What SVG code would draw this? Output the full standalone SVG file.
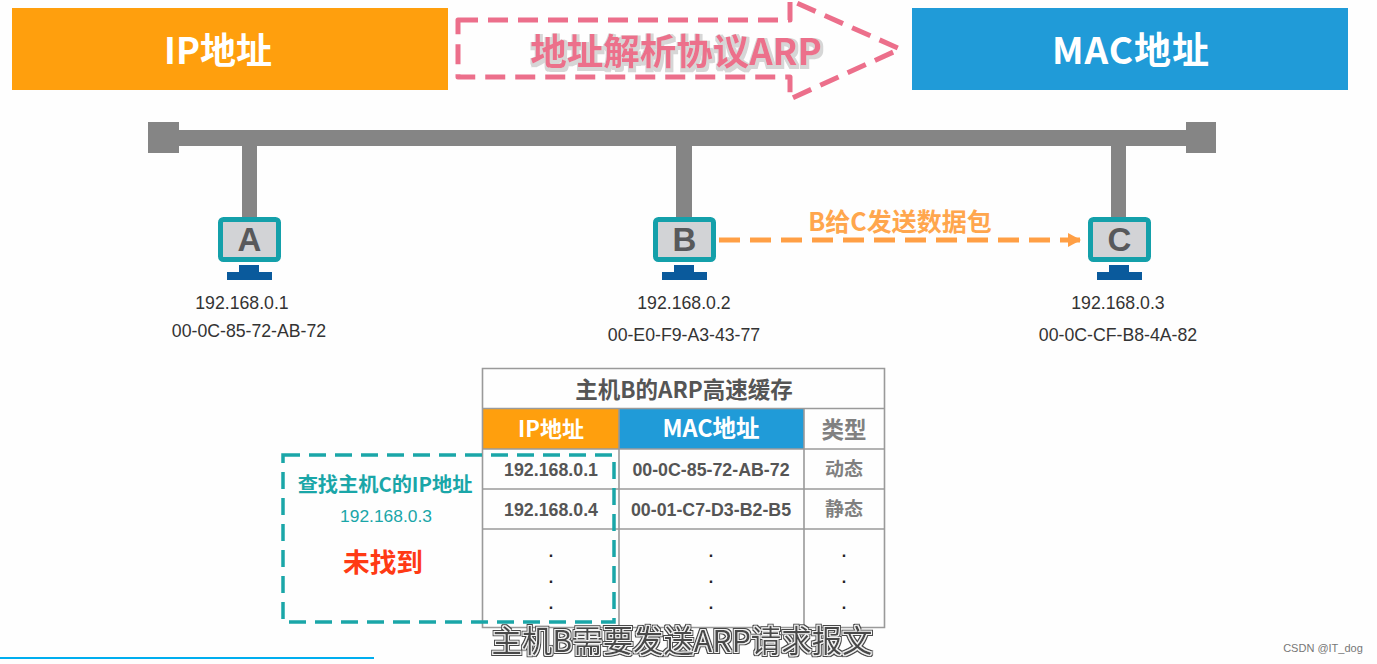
<svg xmlns="http://www.w3.org/2000/svg" width="1377" height="664" viewBox="0 0 1377 664">
<style>
text{font-family:"Noto Sans CJK SC","Liberation Sans",sans-serif;text-anchor:middle}
.lat{font-family:"Liberation Sans","Noto Sans CJK SC",sans-serif}
.head{font-weight:700;fill:#fff}
.addr{font-size:17.700px;fill:#333;font-family:"Liberation Sans",sans-serif}
.bus{fill:#858585}
.screen{fill:#d2d3d6;stroke:#14a0aa;stroke-width:5}
.stand{fill:#0a5a9c}
.letter{font-family:"Liberation Sans",sans-serif;font-size:33px;font-weight:700;fill:#58595b}
.cell{fill:none;stroke:#9a9a9a;stroke-width:1.6}
.th{font-weight:700;fill:#fff}
.td{font-family:"Liberation Sans",sans-serif;font-size:17.800px;font-weight:700;fill:#555}
.ty{font-size:19px;font-weight:700;fill:#808080}
.dot{font-family:"Liberation Sans",sans-serif;font-size:16px;font-weight:700;fill:#222}
</style>
<defs>
<marker id="ah" markerWidth="14" markerHeight="16" refX="12" refY="7" orient="auto" markerUnits="userSpaceOnUse"><path d="M0 0L13 7L0 14z" fill="#ff9f45"/></marker>
<filter id="halo" x="-5%" y="-20%" width="110%" height="140%"><feMorphology in="SourceAlpha" operator="dilate" radius="1.5" result="d"/><feFlood flood-color="#d6d6d6"/><feComposite in2="d" operator="in" result="h"/><feOffset in="h" dx="1" dy="1.5" result="o"/><feMerge><feMergeNode in="o"/><feMergeNode in="SourceGraphic"/></feMerge></filter>
<filter id="outline" x="-5%" y="-20%" width="110%" height="140%"><feMorphology in="SourceAlpha" operator="dilate" radius="2" result="d2"/><feFlood flood-color="#4a4a4a"/><feComposite in2="d2" operator="in" result="dark"/><feMorphology in="SourceAlpha" operator="dilate" radius="1" result="d1"/><feFlood flood-color="#f4f4f4"/><feComposite in2="d1" operator="in" result="light"/><feMerge><feMergeNode in="dark"/><feMergeNode in="light"/><feMergeNode in="SourceGraphic"/></feMerge></filter>
</defs>
<rect width="1377" height="664" fill="#fefefe"/>
<g id="ip-banner"><rect x="12" y="8" width="436" height="82" fill="#ff9f0d"/><text class="head" font-size="36" x="218" y="64">IP地址</text></g>
<g id="mac-banner"><rect x="912" y="8" width="436" height="82" fill="#209bd8"/><text class="head" font-size="37" letter-spacing="1" x="1131" y="64">MAC地址</text></g>
<g id="arp-arrow"><path d="M458 20H790V0L900 49L790 99V77H458Z" fill="none" stroke="#ec6f8b" stroke-width="5" stroke-dasharray="20 10" stroke-linejoin="round"/><text x="676" y="65" font-size="36.500" font-weight="700" fill="#ec6f8b" filter="url(#halo)">地址解析协议ARP</text></g>
<g id="bus"><rect class="bus" x="148" y="130" width="1068" height="16"/><rect class="bus" x="148" y="122" width="31" height="31"/><rect class="bus" x="1186" y="122" width="30" height="31"/></g>
<g id="host-a"><rect class="bus" x="242" y="146" width="15" height="72"/><rect class="screen" x="220.500" y="219.500" width="58" height="40" rx="3"/><path class="stand" d="M239 265H259V272H272V280H227V272H239Z"/><text class="letter" x="249.500" y="251">A</text><text class="addr" x="242" y="309">192.168.0.1</text><text class="addr" x="249" y="337">00-0C-85-72-AB-72</text></g>
<g id="host-b"><rect class="bus" x="676" y="146" width="16" height="72"/><rect class="screen" x="655.500" y="219.500" width="58" height="40" rx="3"/><path class="stand" d="M674 265H694V272H707V280H662V272H674Z"/><text class="letter" x="684.500" y="251">B</text><text class="addr" x="684" y="309">192.168.0.2</text><text class="addr" x="684" y="341">00-E0-F9-A3-43-77</text></g>
<g id="host-c"><rect class="bus" x="1111" y="146" width="15" height="72"/><rect class="screen" x="1090.500" y="219.500" width="58" height="40" rx="3"/><path class="stand" d="M1109 265H1129V272H1142V280H1097V272H1109Z"/><text class="letter" x="1119.500" y="251">C</text><text class="addr" x="1118" y="309">192.168.0.3</text><text class="addr" x="1118" y="341">00-0C-CF-B8-4A-82</text></g>
<g id="connectors"><path d="M719 240H1080" fill="none" stroke="#ff9f45" stroke-width="5" stroke-dasharray="21 10" marker-end="url(#ah)"/><text x="900" y="231" font-size="25" font-weight="700" fill="#ffa64d">B给C发送数据包</text></g>
<g id="arp-table">
<rect x="483" y="409" width="136" height="40" fill="#ff9f0d"/><rect x="619" y="409" width="185" height="40" fill="#209bd8"/>
<path class="cell" d="M482.500 368.500H884.500V627.500H482.500ZM482.500 408.500H884.500M482.500 449H884.500M482.500 489H884.500M482.500 529H884.500M619 408.500V627.500M804 408.500V627.500"/>
<text x="684" y="398" font-size="22.500" font-weight="700" fill="#555">主机B的ARP高速缓存</text>
<text class="th" font-size="22" x="551" y="437">IP地址</text><text class="th" font-size="23.500" x="711" y="437">MAC地址</text><text x="844" y="438" font-size="22.500" font-weight="700" fill="#808080">类型</text>
<text class="td" x="551" y="476">192.168.0.1</text><text class="td" x="711" y="476">00-0C-85-72-AB-72</text><text class="ty" x="844" y="476">动态</text>
<text class="td" x="551" y="516">192.168.0.4</text><text class="td" x="711" y="516">00-01-C7-D3-B2-B5</text><text class="ty" x="844" y="516">静态</text>
<text class="dot" x="551" y="557">.</text><text class="dot" x="551" y="583">.</text><text class="dot" x="551" y="609">.</text>
<text class="dot" x="711" y="557">.</text><text class="dot" x="711" y="583">.</text><text class="dot" x="711" y="609">.</text>
<text class="dot" x="844" y="557">.</text><text class="dot" x="844" y="583">.</text><text class="dot" x="844" y="609">.</text>
</g>
<g id="lookup"><rect x="283" y="455" width="331" height="167" fill="none" stroke="#1aa6a8" stroke-width="3.500" stroke-dasharray="17 9"/>
<text x="385" y="492" font-size="20.200" font-weight="700" fill="#1aa6a8">查找主机C的IP地址</text><text x="386" y="522" class="lat" font-size="17.400" fill="#1aa6a8">192.168.0.3</text><text x="383" y="572" font-size="26.700" font-weight="700" fill="#ff3a14">未找到</text></g>
<g id="caption"><text x="682" y="652" font-size="30.400" fill="#4a4a4a" filter="url(#outline)">主机B需要发送ARP请求报文</text></g>
<rect x="0" y="657" width="374" height="2" fill="#00aeef"/>
<text x="1323" y="652" class="lat" font-size="11" fill="#777">CSDN @IT_dog</text>
</svg>
